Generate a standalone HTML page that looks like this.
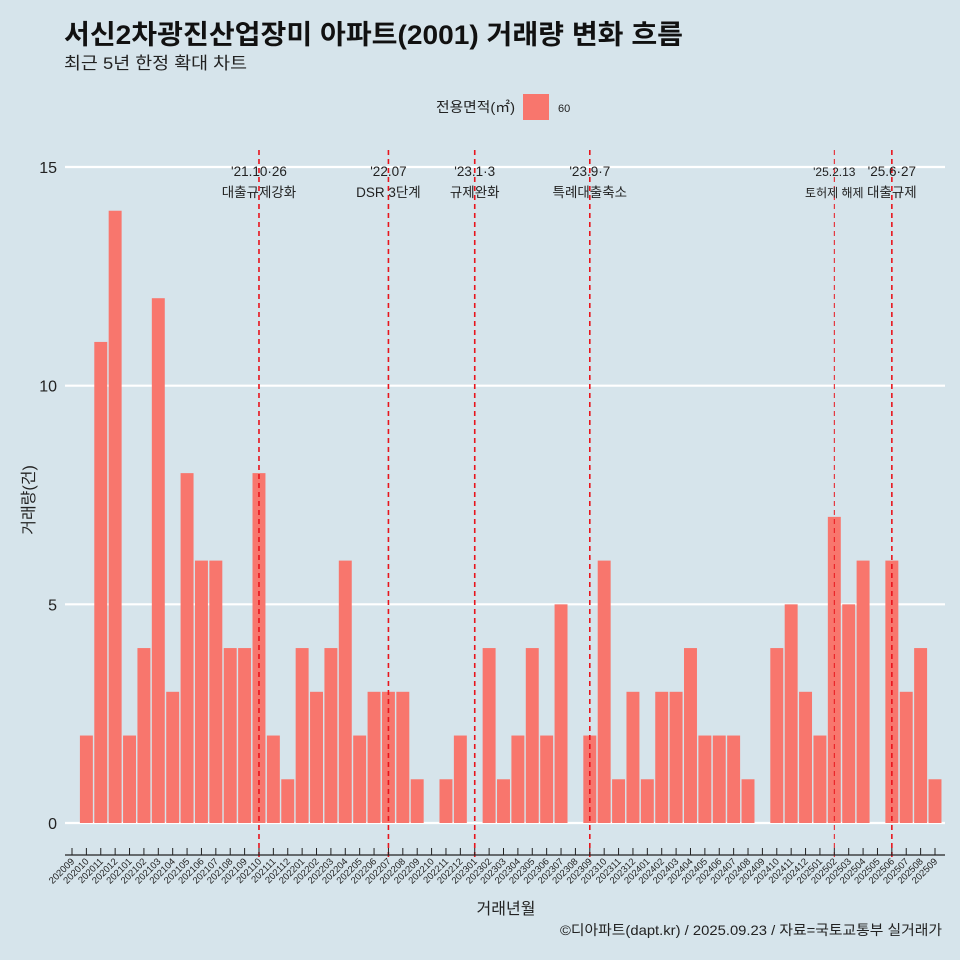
<!DOCTYPE html>
<html><head><meta charset="utf-8"><style>
body{margin:0;background:#d6e4eb;}
svg{display:block;font-family:"Liberation Sans","Noto Sans CJK KR",sans-serif;}
</style></head><body>
<svg id="chart" width="960" height="960" viewBox="0 0 960 960">
<rect width="960" height="960" fill="#d6e4eb"/>
<text x="64" y="44" font-size="27" font-weight="bold" fill="#111" textLength="619" lengthAdjust="spacingAndGlyphs">서신2차광진산업장미 아파트(2001) 거래량 변화 흐름</text>
<text x="64" y="69" font-size="17" fill="#222" textLength="183" lengthAdjust="spacingAndGlyphs">최근 5년 한정 확대 차트</text>
<g>
<text x="515" y="112" font-size="14" text-anchor="end" fill="#222" textLength="79" lengthAdjust="spacingAndGlyphs">전용면적(㎡)</text>
<rect x="523" y="94" width="26" height="26" fill="#f8766d"/>
<text x="558" y="112" font-size="11" fill="#222">60</text>
</g>
<g id="grid"></g><g id="bars"></g><g id="vlines"></g><g id="axes"></g>
<text x="506" y="914" font-size="16" text-anchor="middle" fill="#222">거래년월</text>
<text transform="translate(34,500) rotate(-90)" font-size="16" text-anchor="middle" fill="#222">거래량(건)</text>
<text x="942" y="935" font-size="14" text-anchor="end" fill="#222" textLength="382" lengthAdjust="spacingAndGlyphs">©디아파트(dapt.kr) / 2025.09.23 / 자료=국토교통부 실거래가</text>
</svg>
<script>
const months=["202009","202010","202011","202012","202101","202102","202103","202104","202105","202106","202107","202108","202109","202110","202111","202112","202201","202202","202203","202204","202205","202206","202207","202208","202209","202210","202211","202212","202301","202302","202303","202304","202305","202306","202307","202308","202309","202310","202311","202312","202401","202402","202403","202404","202405","202406","202407","202408","202409","202410","202411","202412","202501","202502","202503","202504","202505","202506","202507","202508","202509"];
const counts=[0,2,11,14,2,4,12,3,8,6,6,4,4,8,2,1,4,3,4,6,2,3,3,3,1,0,1,2,0,4,1,2,4,2,5,0,2,6,1,3,1,3,3,4,2,2,2,1,0,4,5,3,2,7,5,6,0,6,3,4,1];
const yTicks=[0,5,10,15];
const eventMonths=["202110","202207","202301","202309","202502","202506"];
const eventLine1=["'21.10·26","'22.07","'23.1·3","'23.9·7","'25.2.13","'25.6·27"];
const eventLine2=["대출규제강화","DSR 3단계","규제완화","특례대출축소","토허제 해제","대출규제"];
const NS="http://www.w3.org/2000/svg";
const x0=72,step=(935-72)/60;
const xs=i=>x0+i*step;
const ys=v=>823-v*(823-167)/15;
function mk(tag,attrs,parent,text){const e=document.createElementNS(NS,tag);for(const k in attrs)e.setAttribute(k,attrs[k]);if(text!==undefined)e.textContent=text;document.getElementById(parent).appendChild(e);return e;}
yTicks.forEach(t=>{
 const l=mk('line',{x1:65,x2:945,y1:ys(t),y2:ys(t),stroke:'#fff','stroke-width':2.2},'grid');
 
 
 const tx=mk('text',{x:57,y:ys(t)+6,'font-size':16,'text-anchor':'end',fill:'#222'},'grid',String(t));
 
 
});
const bw=step*0.9;
counts.forEach((v,i)=>{
 if(v<=0)return;
 const r=mk('rect',{x:xs(i)-bw/2,y:ys(v),width:bw,height:ys(0)-ys(v),fill:'#f8766d'},'bars');
 
 
});
eventMonths.forEach((m,k)=>{
 const i=months.indexOf(m),x=xs(i);
 const thin=m==="202502";
 const l=mk('line',{x1:x,x2:x,y1:150,y2:857,stroke:'#e8141c','stroke-width':thin?1:1.6,'stroke-dasharray':'5,4'},'vlines');
 
 
 const fs=thin?12:13.5;
 const t1=mk('text',{x:x,y:176,'font-size':fs,'text-anchor':'middle',fill:'#222'},'vlines',eventLine1[k]);
 
 
 const t2=mk('text',{x:x,y:197,'font-size':fs,'text-anchor':'middle',fill:'#222'},'vlines',eventLine2[k]);
 
 
});
const ax=mk('line',{x1:65,x2:945,y1:855,y2:855,stroke:'#222','stroke-width':1.2},'axes');


months.forEach((m,i)=>{
 const x=xs(i);
 const t=mk('line',{x1:x,x2:x,y1:848,y2:855,stroke:'#222','stroke-width':1},'axes');
 
 
 const lb=mk('text',{transform:`translate(${x+3},862) rotate(-45)`,'font-size':9.5,'text-anchor':'end',fill:'#222'},'axes',m);
 
 
});
</script>
</body></html>
